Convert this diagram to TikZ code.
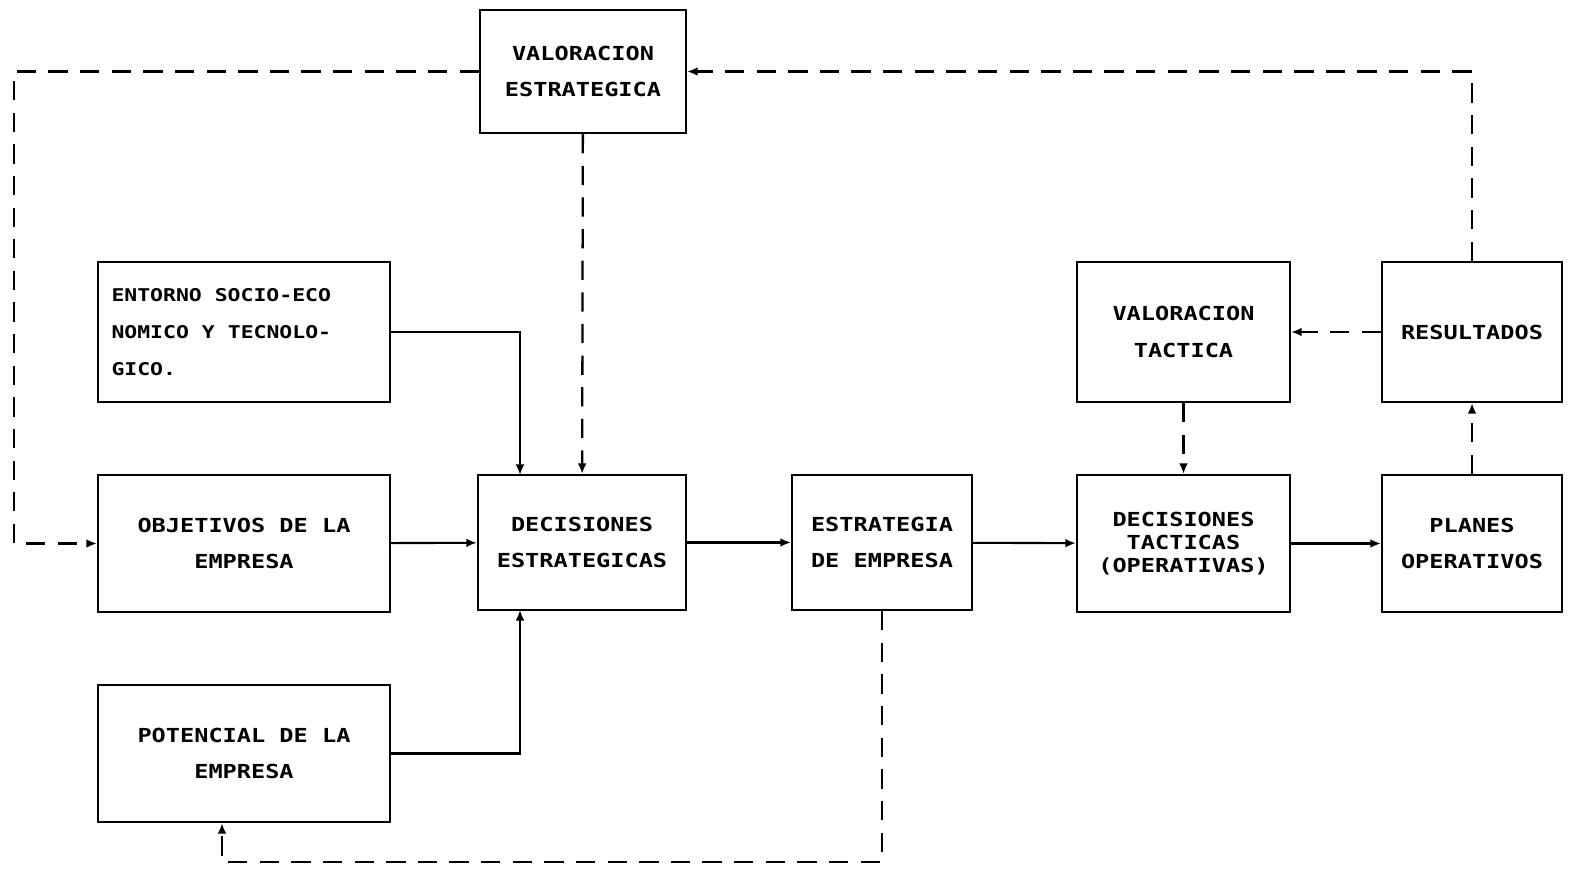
\documentclass[tikz,border=0pt]{standalone}
\usepackage{fontspec}
\setmonofont{DejaVu Sans Mono}[FakeStretch=1.22]
\usetikzlibrary{arrows.meta,positioning,calc}
\newcommand{\tsp}{\hspace{7.4pt}}

\begin{document}
\begin{tikzpicture}[x=0.02cm, y=-0.02cm, >={Latex[length=6pt,width=5pt]},
  box/.style={draw, line width=1.3pt, inner sep=0pt, align=center,
    font=\ttfamily\bfseries\fontsize{11}{21}\selectfont},
  flow/.style={->, line width=1.2pt},
  back/.style={->, line width=1.3pt, dash pattern=on 11pt off 7pt}]

  \useasboundingbox (0,0) rectangle (1571,872);

  % Define boxes
  \node[box, minimum width=4.12cm, minimum height=2.46cm] (VE) at (583,71.5) {VALORACION\\ESTRATEGICA};
  \node[box, minimum width=5.84cm, minimum height=2.8cm, text width=5.3cm, align=left,
    font=\ttfamily\bfseries\fontsize{10}{21}\selectfont] (ENT) at (244,332)
    {ENTORNO\tsp SOCIO-ECO\\NOMICO\tsp Y\tsp TECNOLO-\\GICO.};
  \node[box, minimum width=5.84cm, minimum height=2.74cm] (OBJ) at (244,543.5) {OBJETIVOS DE LA\\EMPRESA};
  \node[box, minimum width=5.84cm, minimum height=2.74cm] (POT) at (244,753.5) {POTENCIAL DE LA\\EMPRESA};
  \node[box, minimum width=4.16cm, minimum height=2.7cm] (DE) at (582,542.5) {DECISIONES\\ESTRATEGICAS};
  \node[box, minimum width=3.6cm, minimum height=2.7cm] (EE) at (882,542.5) {ESTRATEGIA\\DE EMPRESA};
  \node[box, minimum width=4.26cm, minimum height=2.8cm] (VT) at (1183.5,332) {VALORACION\\TACTICA};
  \node[box, minimum width=4.26cm, minimum height=2.74cm,
    font=\ttfamily\bfseries\fontsize{11}{13}\selectfont] (DT) at (1183.5,543.5) {DECISIONES\\TACTICAS\\(OPERATIVAS)};
  \node[box, minimum width=3.6cm, minimum height=2.8cm] (RES) at (1472,332) {RESULTADOS};
  \node[box, minimum width=3.6cm, minimum height=2.74cm] (PO) at (1472,543.5) {PLANES\\OPERATIVOS};

  % Corner points
  \coordinate (c1) at (14,71.5);
  \coordinate (c2) at (14,543.5);
  \coordinate (c3) at (882,862);
  \coordinate (c4) at (222,862);
  \coordinate (ein) at (520,475);
  \coordinate (pin) at (520,610);

  % Solid arrows
  \draw[flow] (ENT.east) -| (ein);
  \draw[flow] (POT.east) -| (pin);
  \draw[flow] (OBJ) -- (DE);
  \draw[flow] (DE) -- (EE);
  \draw[flow] (EE) -- (DT);
  \draw[flow] (DT) -- (PO);

  % Dashed arrows
  \draw[back] (VE.west) -- (c1) -- (c2) -- (OBJ.west);
  \draw[back] (RES.north) |- (VE.east);
  \draw[back] (VE) -- (DE);
  \draw[back] (PO) -- (RES);
  \draw[back] (RES) -- (VT);
  \draw[back] (VT) -- (DT);
  \draw[back] (EE.south) -- (c3) -- (c4) -- (POT.south -| c4);
\end{tikzpicture}
\end{document}
